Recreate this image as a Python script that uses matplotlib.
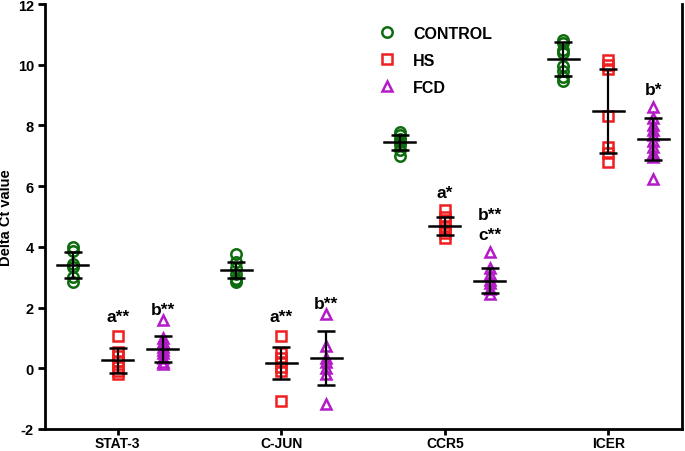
import numpy as np
import matplotlib
matplotlib.use("Agg")
from matplotlib import pyplot as plt

plt.rcParams['font.family'] = ['Liberation Sans', 'DejaVu Sans']
plt.rcParams['font.weight'] = 'bold'

genes = ["STAT-3", "C-JUN", "CCR5", "ICER"]
groups = ["CONTROL", "HS", "FCD"]

# individual points, per gene
control_pts = [
    [4.0, 3.85, 3.45, 3.35, 3.0, 2.85],
    [3.75, 3.5, 3.3, 3.1, 2.95, 2.9, 2.85],
    [7.8, 7.7, 7.55, 7.45, 7.35, 7.2, 7.0],
    [10.8, 10.7, 10.5, 10.4, 9.95, 9.8, 9.6, 9.45],
]
hs_pts = [
    [1.05, 0.55, 0.4, 0.25, 0.05, -0.1, -0.2],
    [1.05, 0.5, 0.35, 0.2, 0.05, -0.1, -1.08],
    [5.2, 5.0, 4.85, 4.7, 4.55, 4.45, 4.3],
    [10.15, 10.0, 9.85, 8.3, 7.3, 7.1, 6.8],
]
fcd_pts = [
    [1.58, 1.0, 0.85, 0.7, 0.6, 0.5, 0.35, 0.2, 0.15],
    [1.78, 0.72, 0.35, 0.2, 0.0, -0.2, -1.18],
    [3.82, 3.3, 3.1, 2.9, 2.8, 2.6, 2.45],
    [8.6, 8.25, 8.0, 7.85, 7.7, 7.5, 7.3, 7.1, 6.95, 6.25],
]

# mean and SD
control_mean = [3.4, 3.23, 7.44, 10.18]
control_sd = [0.43, 0.27, 0.25, 0.56]
hs_mean = [0.26, 0.17, 4.69, 8.48]
hs_sd = [0.41, 0.52, 0.30, 1.38]
fcd_mean = [0.63, 0.33, 2.88, 7.55]
fcd_sd = [0.43, 0.89, 0.41, 0.69]

# significance labels: (gene index, group index, y, text)
sig_labels = [
    (0, 1, 1.7, "a**"),
    (0, 2, 1.95, "b**"),
    (1, 1, 1.7, "a**"),
    (1, 2, 2.15, "b**"),
    (2, 1, 5.8, "a*"),
    (2, 2, 5.05, "b**"),
    (2, 2, 4.4, "c**"),
    (3, 2, 9.2, "b*"),
]

colors = ["#0e6b0e", "#f01e1e", "#b41ac8"]
markers = ["o", "s", "^"]
offsets = [-0.275, 0.0, 0.275]

fig = plt.figure(figsize=(6.85, 4.52), dpi=100)
ax = fig.add_axes([45 / 685, 22 / 452, 637 / 685, 425 / 452])

all_pts = [control_pts, hs_pts, fcd_pts]
all_mean = [control_mean, hs_mean, fcd_mean]
all_sd = [control_sd, hs_sd, fcd_sd]

for g in range(3):
    for i in range(len(genes)):
        x = i + offsets[g]
        pts = all_pts[g][i]
        ax.plot([x] * len(pts), pts, linestyle="none", marker=markers[g],
                markersize=7.5, markerfacecolor="none",
                markeredgecolor=colors[g], markeredgewidth=1.8,
                label=groups[g] if i == 0 else None, zorder=2)
        m = all_mean[g][i]
        s = all_sd[g][i]
        ax.errorbar([x], [m], yerr=[s], fmt="none", ecolor="black",
                    elinewidth=1.6, capsize=6.5, capthick=1.8, zorder=3)
        ax.plot([x - 0.095, x + 0.095], [m, m], color="black", lw=1.8, zorder=3)

for gi, gr, y, txt in sig_labels:
    ax.text(gi + offsets[gr] + 0.0, y, txt, ha="center", va="center",
            fontsize=12.5, fontweight="bold")

ax.set_xlim(-0.445, 3.45)
ax.set_ylim(-2, 12)
ax.set_xticks(range(len(genes)))
ax.set_xticklabels(genes, fontsize=10, fontweight="bold")
ax.set_yticks(np.arange(-2, 13, 2))
ax.set_yticklabels([str(v) for v in range(-2, 13, 2)], fontsize=10.5, fontweight="bold")
ax.set_ylabel("Delta Ct value", fontsize=10.5, fontweight="bold")
ax.yaxis.set_label_coords(-0.05, 0.5)

for sp in ["left", "bottom", "right"]:
    ax.spines[sp].set_linewidth(2)
ax.spines["top"].set_visible(False)
ax.tick_params(axis="both", width=2, length=5, direction="out", pad=3)
ax.tick_params(axis="x", length=4, pad=1)

leg = ax.legend(loc="upper left", bbox_to_anchor=(0.5, 0.975), frameon=False,
                fontsize=11.5, handletextpad=0.8, handlelength=1.6,
                labelspacing=0.75, borderaxespad=0.3)
for t in leg.get_texts():
    t.set_fontweight("bold")

fig.savefig("out.png", dpi=100)
